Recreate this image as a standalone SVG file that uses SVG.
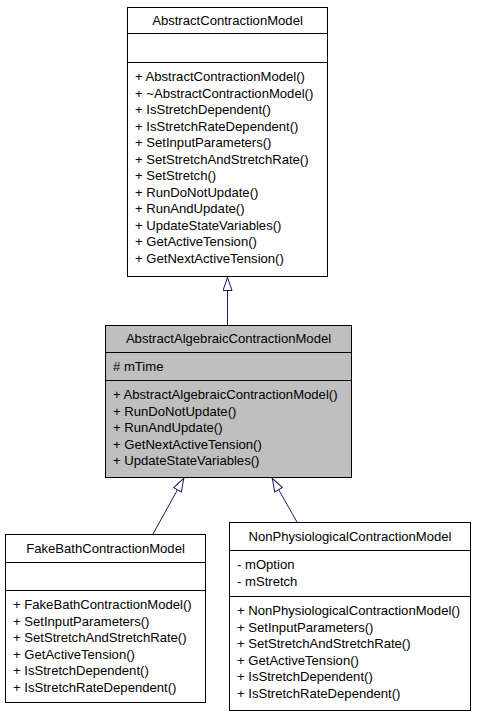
<svg xmlns="http://www.w3.org/2000/svg" width="477" height="717" viewBox="0 0 477 717">
<style>
.box{fill:#ffffff;stroke:#000000;stroke-width:1}
.hl{fill:#bfbfbf}
.div{stroke:#000000;stroke-width:1}
text{font-family:"Liberation Sans",Arial,Helvetica,sans-serif;font-size:13.1px;fill:#000000}
.t{text-anchor:middle}
.edge{fill:none;stroke:#191970;stroke-width:1}
</style>
<defs>
<marker id="inh" viewBox="0 0 14 10" refX="14" refY="5" markerWidth="14" markerHeight="10" markerUnits="userSpaceOnUse" orient="auto">
<path d="M0.5,0.5 L13.5,5 L0.5,9.5 Z" fill="#ffffff" stroke="#191970" stroke-width="1"/>
</marker>
</defs>
<g id="connectors">
<path class="edge" d="M227.5,325 L227.5,277" marker-end="url(#inh)"/>
<path class="edge" d="M153,534 L184,478" marker-end="url(#inh)"/>
<path class="edge" d="M297,522 L272,478" marker-end="url(#inh)"/>
</g>
<g id="AbstractContractionModel">
<rect class="box" x="127.5" y="7.5" width="200" height="269"/>
<line class="div" x1="127.5" y1="33.5" x2="327.5" y2="33.5"/>
<line class="div" x1="127.5" y1="62.5" x2="327.5" y2="62.5"/>
<text class="t" x="227.5" y="25">AbstractContractionModel</text>
<text x="135" y="81">+ AbstractContractionModel()</text>
<text x="135" y="97.5">+ ~AbstractContractionModel()</text>
<text x="135" y="114">+ IsStretchDependent()</text>
<text x="135" y="130.5">+ IsStretchRateDependent()</text>
<text x="135" y="147">+ SetInputParameters()</text>
<text x="135" y="163.5">+ SetStretchAndStretchRate()</text>
<text x="135" y="180">+ SetStretch()</text>
<text x="135" y="196.5">+ RunDoNotUpdate()</text>
<text x="135" y="213">+ RunAndUpdate()</text>
<text x="135" y="229.5">+ UpdateStateVariables()</text>
<text x="135" y="246">+ GetActiveTension()</text>
<text x="135" y="262.5">+ GetNextActiveTension()</text>
</g>
<g id="AbstractAlgebraicContractionModel">
<rect class="box hl" x="105.5" y="325.5" width="246" height="152"/>
<line class="div" x1="105.5" y1="352.5" x2="351.5" y2="352.5"/>
<line class="div" x1="105.5" y1="380.5" x2="351.5" y2="380.5"/>
<text class="t" x="228.5" y="343">AbstractAlgebraicContractionModel</text>
<text x="113" y="371"># mTime</text>
<text x="113" y="399">+ AbstractAlgebraicContractionModel()</text>
<text x="113" y="415.5">+ RunDoNotUpdate()</text>
<text x="113" y="432">+ RunAndUpdate()</text>
<text x="113" y="448.5">+ GetNextActiveTension()</text>
<text x="113" y="465">+ UpdateStateVariables()</text>
</g>
<g id="FakeBathContractionModel">
<rect class="box" x="5.5" y="534.5" width="200" height="168"/>
<line class="div" x1="5.5" y1="562.5" x2="205.5" y2="562.5"/>
<line class="div" x1="5.5" y1="590.5" x2="205.5" y2="590.5"/>
<text class="t" x="105.5" y="553">FakeBathContractionModel</text>
<text x="13" y="609">+ FakeBathContractionModel()</text>
<text x="13" y="625.5">+ SetInputParameters()</text>
<text x="13" y="642">+ SetStretchAndStretchRate()</text>
<text x="13" y="658.5">+ GetActiveTension()</text>
<text x="13" y="675">+ IsStretchDependent()</text>
<text x="13" y="691.5">+ IsStretchRateDependent()</text>
</g>
<g id="NonPhysiologicalContractionModel">
<rect class="box" x="229.5" y="522.5" width="241" height="188"/>
<line class="div" x1="229.5" y1="550.5" x2="470.5" y2="550.5"/>
<line class="div" x1="229.5" y1="596.5" x2="470.5" y2="596.5"/>
<text class="t" x="350" y="541">NonPhysiologicalContractionModel</text>
<text x="237" y="569">- mOption</text>
<text x="237" y="585.5">- mStretch</text>
<text x="237" y="615">+ NonPhysiologicalContractionModel()</text>
<text x="237" y="631.5">+ SetInputParameters()</text>
<text x="237" y="648">+ SetStretchAndStretchRate()</text>
<text x="237" y="664.5">+ GetActiveTension()</text>
<text x="237" y="681">+ IsStretchDependent()</text>
<text x="237" y="697.5">+ IsStretchRateDependent()</text>
</g>
</svg>
